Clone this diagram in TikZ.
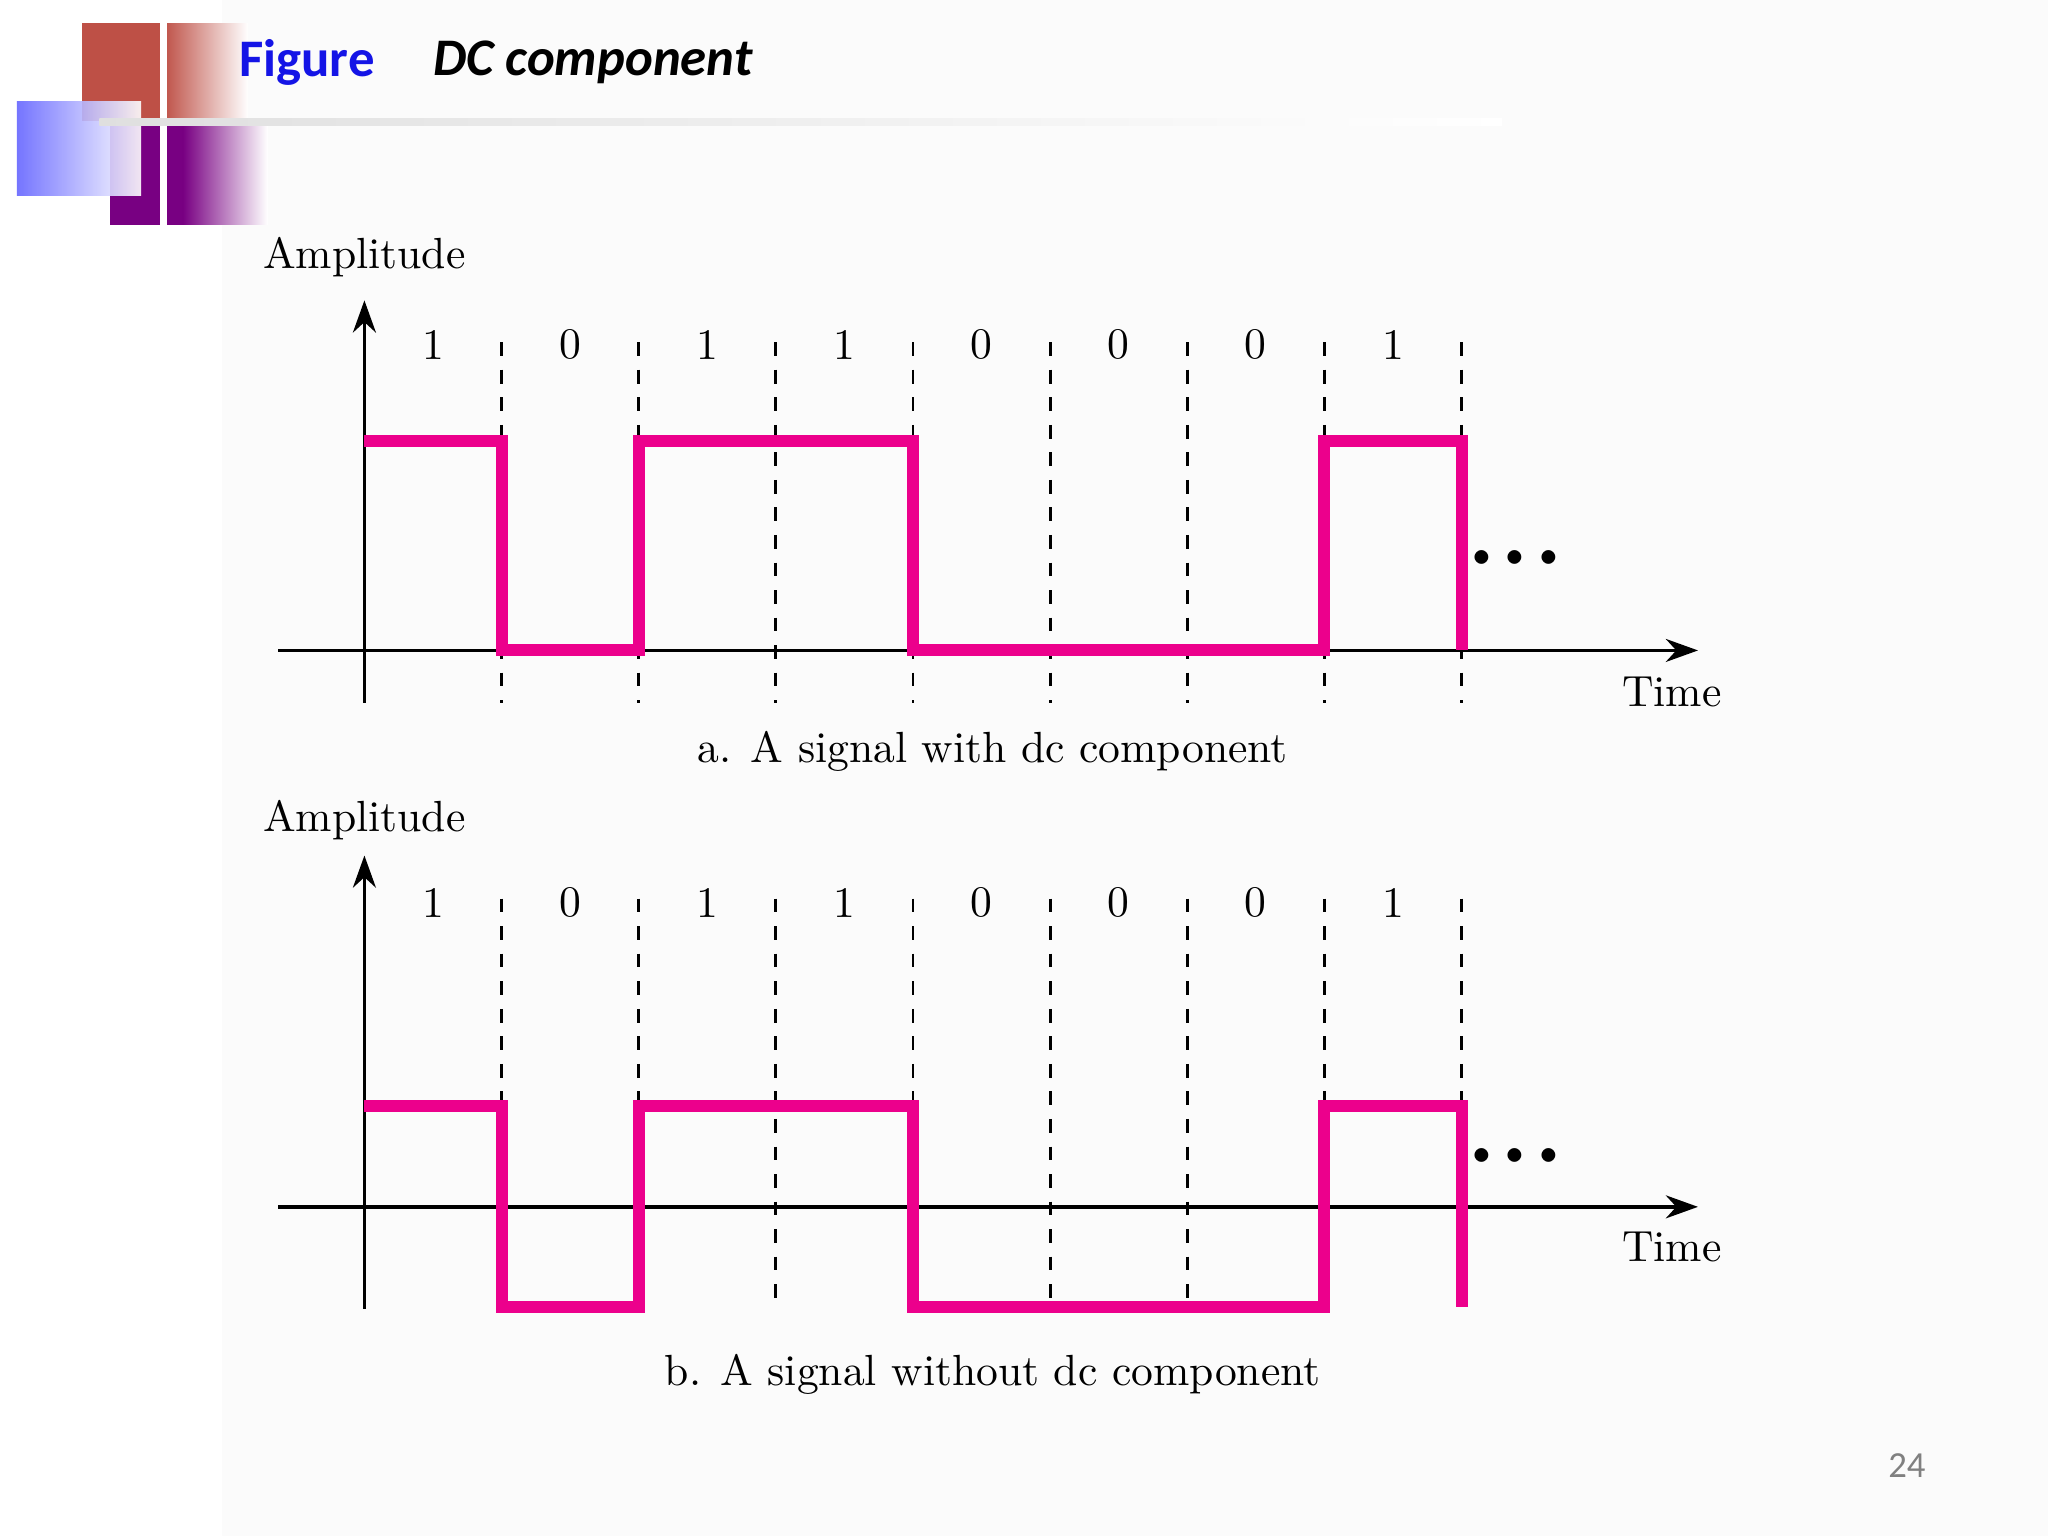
\documentclass[tikz,border=0pt]{standalone}
\usepackage{fontspec}
\newfontfamily\headfont{Carlito}
\usetikzlibrary{arrows.meta}
\definecolor{signal}{RGB}{236,0,140}
\definecolor{figblue}{RGB}{20,20,230}
\definecolor{boxred}{RGB}{190,80,70}
\definecolor{boxpurple}{RGB}{120,0,130}
\tikzset{
  bitline/.style={dashed, line width=0.6pt},
  axisline/.style={line width=0.8pt, -{Stealth[length=7pt,width=5pt]}},
  wave/.style={signal, line width=2.6pt},
  lbl/.style={font=\fontsize{9.5}{11}\selectfont},
  dots/.style={font=\fontsize{7}{7}\selectfont\bfseries}
}
\begin{document}
\begin{tikzpicture}[x=1cm,y=-1cm]
\useasboundingbox (0,0) rectangle (15.68,11.76);
\fill [white!97!gray] (1.7,0) rectangle (15.68,11.76);
% header decoration
\fill [boxred] (0.63,0.18) rectangle (1.25,0.93);
\shade [left color=boxred, right color=white] (1.25,0.18) rectangle (1.9,0.93);
\fill [boxpurple] (0.84,0.93) rectangle (1.4,1.72);
\shade [left color=boxpurple, right color=white] (1.4,0.93) rectangle (2.05,1.72);
\shade [left color=blue!60, right color=white, opacity=0.9] (0.13,0.78) rectangle (1.08,1.5);
\draw [white, line width=1.5pt] (1.25,0) -- (1.25,1.8);
\shade [left color=gray!25, right color=white] (0.76,0.91) rectangle (11.5,0.96);
\node (fig) [font=\headfont\fontsize{11.5}{14}\selectfont\bfseries, text=figblue] at (2.35,0.48) {Figure};
\node (title) [font=\headfont\fontsize{11.5}{14}\selectfont\bfseries\itshape, anchor=west, inner sep=0pt] at (3.31,0.48) {DC component};
\node (page) [font=\headfont\fontsize{8}{9}\selectfont, text=gray] at (14.6,11.22) {24};

% panel a: with dc component
\foreach \i in {1,...,8} \draw [bitline] (2.79+1.05*\i,2.62) -- (2.79+1.05*\i,5.38);
\foreach \b [count=\i] in {1,0,1,1,0,0,0,1}
  \node [lbl] at (2.265+1.05*\i,2.64) {\b};
\draw [axisline] (2.13,4.98) -- (13.0,4.98);
\draw [axisline] (2.79,5.38) -- (2.79,2.3);
\draw [wave] (2.79,3.38) -- (3.84,3.38) -- (3.84,4.98) -- (4.89,4.98) -- (4.89,3.38)
  -- (6.99,3.38) -- (6.99,4.98) -- (10.14,4.98) -- (10.14,3.38) -- (11.19,3.38) -- (11.19,4.98);
\node (ampa) [lbl] at (2.79,1.97) {Amplitude};
\node (timea) [lbl] at (12.8,5.3) {Time};
\node (dotsa) [dots] at (11.6,4.27) {$\bullet\,\bullet\,\bullet$};
\node (capa) [lbl] at (7.6,5.75) {a. A signal with dc component};

% panel b: without dc component
\foreach \i in {1,...,8} \draw [bitline] (2.79+1.05*\i,6.88) -- (2.79+1.05*\i,10.02);
\foreach \b [count=\i] in {1,0,1,1,0,0,0,1}
  \node [lbl] at (2.265+1.05*\i,6.91) {\b};
\draw [axisline] (2.13,9.24) -- (13.0,9.24);
\draw [axisline] (2.79,10.02) -- (2.79,6.55);
\draw [wave] (2.79,8.47) -- (3.84,8.47) -- (3.84,10.01) -- (4.89,10.01) -- (4.89,8.47)
  -- (6.99,8.47) -- (6.99,10.01) -- (10.14,10.01) -- (10.14,8.47) -- (11.19,8.47) -- (11.19,10.01);
\node (ampb) [lbl] at (2.79,6.28) {Amplitude};
\node (timeb) [lbl] at (12.8,9.55) {Time};
\node (dotsb) [dots] at (11.6,8.85) {$\bullet\,\bullet\,\bullet$};
\node (capb) [lbl] at (7.6,10.52) {b. A signal without dc component};
\end{tikzpicture}
\end{document}
